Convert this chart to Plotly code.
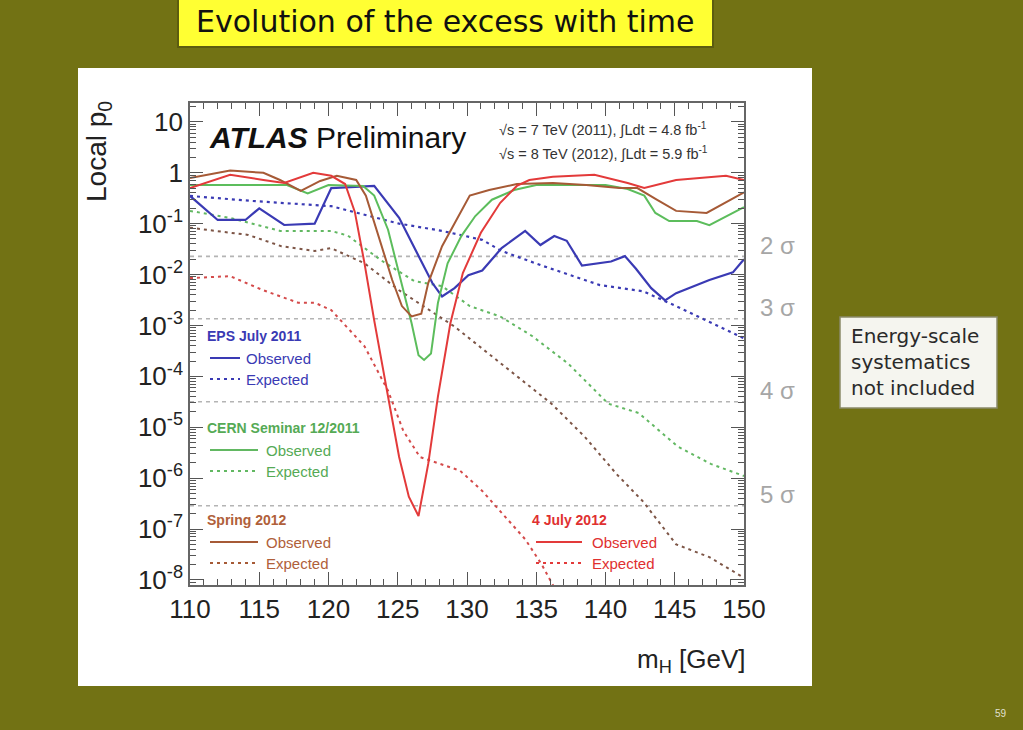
import plotly.graph_objects as go
import math

# ---------------- data ----------------
# EPS July 2011
eps_obs_m = [110, 112, 114, 115, 116.8, 119, 120.2, 123.3, 125.1, 126.4, 127.5, 128.2, 129.1, 130.1, 131.1,
             132.5, 134.2, 135.3, 136.3, 137.2, 138.3, 140.4, 141.4, 142.2, 143.3, 144.3, 145.1, 147.5, 149.2, 150]
eps_obs_p = [0.35, 0.118, 0.118, 0.20, 0.094, 0.10, 0.50, 0.55, 0.13, 0.026, 0.0068, 0.0037, 0.0054, 0.0097, 0.012,
             0.033, 0.072, 0.038, 0.057, 0.046, 0.015, 0.018, 0.023, 0.013, 0.0054, 0.0031, 0.0043, 0.0078, 0.011, 0.020]
eps_exp_m = [110, 114.4, 120.2, 125.1, 128.2, 131.1, 132.5, 135.4, 139.6, 142.7, 145.1, 150]
eps_exp_p = [0.35, 0.28, 0.22, 0.10, 0.072, 0.048, 0.029, 0.015, 0.0062, 0.0047, 0.0024, 0.00056]

# CERN Seminar 12/2011
cern_obs_m = [110, 117, 118.5, 120, 122.5, 123.3, 124.3, 125.1, 126, 126.5, 126.9, 127.4, 127.9, 128.6, 129.6,
              130.6, 131.8, 133.4, 135, 140, 141.6, 142.8, 143.6, 144.6, 146.6, 147.5, 150]
cern_obs_p = [0.575, 0.575, 0.39, 0.575, 0.55, 0.355, 0.076, 0.0107, 0.0011, 0.00026, 0.00021, 0.00028, 0.00275,
              0.0166, 0.0575, 0.141, 0.295, 0.457, 0.575, 0.575, 0.48, 0.355, 0.162, 0.112, 0.112, 0.093, 0.21]
cern_exp_m = [110, 112.9, 116.5, 120.2, 121.4, 123.8, 126.2, 128.2, 130.2, 132.4, 134.7, 137.3, 140.2, 142.4,
              145.2, 147.6, 150]
cern_exp_p = [0.178, 0.129, 0.072, 0.072, 0.058, 0.019, 0.0074, 0.0059, 0.0024, 0.0015, 0.00062, 0.000178,
              2.9e-5, 1.9e-5, 4.2e-6, 1.9e-6, 1.1e-6]

# Spring 2012
spr_obs_m = [110, 112.9, 115.3, 116.5, 118, 119.4, 120.6, 122, 122.7, 123.6, 124.6, 125.3, 126, 126.7, 127.2,
             128.2, 129.2, 130.2, 131.6, 133.6, 136.2, 138.6, 141, 142.3, 143.7, 145.1, 147.3, 148.7, 150]
spr_obs_p = [0.79, 1.1, 1.0, 0.72, 0.44, 0.69, 0.87, 0.72, 0.355, 0.058, 0.0078, 0.0024, 0.0015, 0.0017, 0.0068,
             0.036, 0.117, 0.355, 0.457, 0.60, 0.63, 0.575, 0.50, 0.50, 0.295, 0.178, 0.162, 0.257, 0.41]
spr_exp_m = [110, 114.2, 116.6, 119, 120.2, 122.6, 125.1, 128, 129.1, 131.1, 133.5, 136.1, 138.5, 140.8, 142.7,
             145.1, 147.5, 150]
spr_exp_p = [0.083, 0.060, 0.036, 0.029, 0.033, 0.0166, 0.0049, 0.0015, 0.00095, 0.00035, 0.000105, 2.9e-5,
             6.5e-6, 1.2e-6, 3.5e-7, 5.0e-8, 2.8e-8, 1.1e-8]

# 4 July 2012
jul_obs_m = [110, 112.9, 115.3, 116.8, 118.9, 120.2, 121.2, 121.9, 122.6, 123.3, 124.3, 125.1, 125.8, 126.5,
             127.2, 127.9, 128.8, 129.7, 131, 132.4, 133.6, 134.5, 136.2, 139.2, 141.6, 142.8, 145.1, 148.7, 150]
jul_obs_p = [0.50, 0.91, 0.72, 0.63, 1.0, 0.87, 0.60, 0.17, 0.0166, 0.00126, 4.0e-5, 2.6e-6, 4.3e-7, 1.8e-7,
             1.9e-6, 4.0e-5, 0.0011, 0.0107, 0.066, 0.257, 0.55, 0.72, 0.83, 0.91, 0.63, 0.50, 0.72, 0.87, 0.72]
jul_exp_m = [110, 112.9, 115.3, 117.8, 119, 120.2, 122.6, 124.3, 125.4, 126.6, 127.6, 129.5, 131.1, 132.8,
             134.2, 135.4, 136.2, 136.6]
jul_exp_p = [0.0085, 0.0093, 0.0049, 0.0028, 0.0028, 0.0020, 0.00039, 5.2e-5, 8.5e-6, 2.6e-6, 2.1e-6, 1.4e-6,
             5.6e-7, 1.7e-7, 6.3e-8, 2.0e-8, 8.1e-9, 5e-9]

sigma_labels = ["2 σ", "3 σ", "4 σ", "5 σ"]
sigma_p = [0.02275, 0.00135, 3.167e-5, 2.867e-7]

x_tick_vals = [110, 115, 120, 125, 130, 135, 140, 145, 150]
y_tick_vals = [1e-8, 1e-7, 1e-6, 1e-5, 1e-4, 1e-3, 1e-2, 1e-1, 1, 10]
y_tick_text = ["10<sup>-8</sup>", "10<sup>-7</sup>", "10<sup>-6</sup>", "10<sup>-5</sup>", "10<sup>-4</sup>",
               "10<sup>-3</sup>", "10<sup>-2</sup>", "10<sup>-1</sup>", "1", "10"]

# ---------------- layout geometry (pixels) ----------------
W, H = 1023, 730
L, R, T, B = 190, 744, 103, 585

def px(x):
    return (x - L) / (R - L)

def py(y):
    return (B - y) / (B - T)

OLIVE = "#727214"
BLUE = "#3a3ab4"
GREEN = "#5cbd5c"
BROWN = "#a65a36"
BROWN_EXP = "#7d5546"
RED = "#e33a3a"
RED_EXP = "#d44a4a"
FONT = "Liberation Sans, Arial, sans-serif"
DOT = "3px,4px"

fig = go.Figure()

# sigma reference lines
for p in sigma_p:
    fig.add_trace(go.Scatter(x=[110, 150], y=[p, p], mode="lines",
                             line=dict(color="#b4b4b4", width=1.6, dash="4px,4px"),
                             hoverinfo="skip", showlegend=False))

series = [
    (eps_exp_m, eps_exp_p, BLUE, DOT, 2.2),
    (cern_exp_m, cern_exp_p, "#62b862", DOT, 2.0),
    (spr_exp_m, spr_exp_p, BROWN_EXP, DOT, 2.0),
    (jul_exp_m, jul_exp_p, RED_EXP, DOT, 2.0),
    (eps_obs_m, eps_obs_p, BLUE, "solid", 2.2),
    (cern_obs_m, cern_obs_p, GREEN, "solid", 2.0),
    (spr_obs_m, spr_obs_p, BROWN, "solid", 2.0),
    (jul_obs_m, jul_obs_p, RED, "solid", 2.0),
]
for xs, ys, col, dash, w in series:
    fig.add_trace(go.Scatter(x=xs, y=ys, mode="lines", line=dict(color=col, width=w, dash=dash),
                             hoverinfo="skip", showlegend=False))

minor_y = [k * 10 ** e for e in range(-9, 2) for k in range(2, 10)]

fig.update_xaxes(range=[110, 150], tickvals=x_tick_vals, ticks="inside", ticklen=13, tickwidth=1.3,
                 tickcolor="#555", showline=True, linecolor="#666", linewidth=1.6, mirror="allticks",
                 showgrid=False, zeroline=False,
                 tickfont=dict(family=FONT, size=26, color="#222"),
                 minor=dict(dtick=1, ticks="inside", ticklen=6, tickcolor="#555", tickwidth=1.1, showgrid=False))
fig.update_yaxes(type="log", range=[-8.1, 1.37], tickmode="array", tickvals=y_tick_vals, ticktext=y_tick_text,
                 ticks="inside", ticklen=13, tickwidth=1.3, tickcolor="#555", showline=True, linecolor="#666",
                 linewidth=1.6, mirror="allticks", showgrid=False, zeroline=False,
                 tickfont=dict(family=FONT, size=26, color="#222"),
                 minor=dict(tickmode="array", tickvals=minor_y, ticks="inside", ticklen=6, tickcolor="#555",
                            tickwidth=1.1, showgrid=False))

shapes = []
# white slide panel
shapes.append(dict(type="rect", xref="paper", yref="paper", x0=px(78), x1=px(812), y0=py(686), y1=py(68),
                   fillcolor="white", line=dict(width=0), layer="below"))
# title box
shapes.append(dict(type="rect", xref="paper", yref="paper", x0=px(178), x1=px(713), y0=py(47), y1=py(-3),
                   fillcolor="#ffff33", line=dict(color="#5c5c10", width=2), layer="below"))
# side note box
shapes.append(dict(type="rect", xref="paper", yref="paper", x0=px(840), x1=px(997), y0=py(408), y1=py(317),
                   fillcolor="#f5f5ef", line=dict(color="#8a8a6a", width=1.5), layer="below"))

annotations = []

def text(x, y, s, size, color="#222", anchor="left", family=FONT, vanchor="middle", angle=0, align="center"):
    annotations.append(dict(x=px(x), y=py(y), xref="paper", yref="paper", text=s, showarrow=False,
                            xanchor=anchor, yanchor=vanchor, textangle=angle, align=align,
                            font=dict(family=family, size=size, color=color)))

# legend blocks
legend = [
    ("EPS July 2011", BLUE, BLUE, 205, 336, 210, 240, 244),
    ("CERN Seminar 12/2011", "#55aa55", "#62b862", 205, 428, 210, 258, 264),
    ("Spring 2012", "#b0603a", BROWN, 205, 520, 210, 258, 264),
    ("4 July 2012", "#e03030", RED, 530, 520, 536, 582, 590),
]
for label, tcol, lcol, tx, ty, lx0, lx1, ox in legend:
    text(tx, ty, "<b>" + label + "</b>", 14, tcol)
    for k, (nm, dash) in enumerate([("Observed", "solid"), ("Expected", DOT)]):
        yy = ty + 22 + 21 * k
        shapes.append(dict(type="line", xref="paper", yref="paper", x0=px(lx0), x1=px(lx1), y0=py(yy), y1=py(yy),
                           line=dict(color=lcol, width=2, dash=dash)))
        text(ox, yy, nm, 15, tcol)

# ATLAS label
text(207, 137, "<b><i>ATLAS</i></b> Preliminary", 30, "#111")
text(497, 129, "√s = 7 TeV (2011), ∫Ldt = 4.8 fb<sup>-1</sup>", 14.5, "#333")
text(497, 154, "√s = 8 TeV (2012), ∫Ldt = 5.9 fb<sup>-1</sup>", 14.5, "#333")

# axis titles
text(98, 152, "Local p<sub>0</sub>", 28, "#222", anchor="center", angle=-90)
text(748, 660, "m<sub>H</sub> [GeV]", 26, "#222", anchor="right")

# sigma labels
for lab, p in zip(sigma_labels, sigma_p):
    annotations.append(dict(x=px(758), xref="paper", y=math.log10(p), yref="y", yshift=11, text=lab,
                            showarrow=False, xanchor="left", yanchor="middle",
                            font=dict(family=FONT, size=24, color="#a6a6a6")))

# slide title, side note, page number
text(445, 22, "Evolution of the excess with time", 30, "#111", anchor="center", family="DejaVu Sans, sans-serif")
text(849, 362, "Energy-scale<br>systematics<br>not included", 20, "#2a2a2a", family="DejaVu Sans, sans-serif",
     align="left")
text(1001, 713, "59", 10, "#e0e0d0", anchor="center")

fig.update_layout(width=W, height=H, margin=dict(l=L, r=W - R, t=T, b=H - B, pad=0),
                  paper_bgcolor=OLIVE, plot_bgcolor="white", showlegend=False,
                  shapes=shapes, annotations=annotations)

fig.write_html("out.html", config={"displayModeBar": False},
               post_script="document.body.style.margin='0';document.body.style.background='%s';" % OLIVE)
